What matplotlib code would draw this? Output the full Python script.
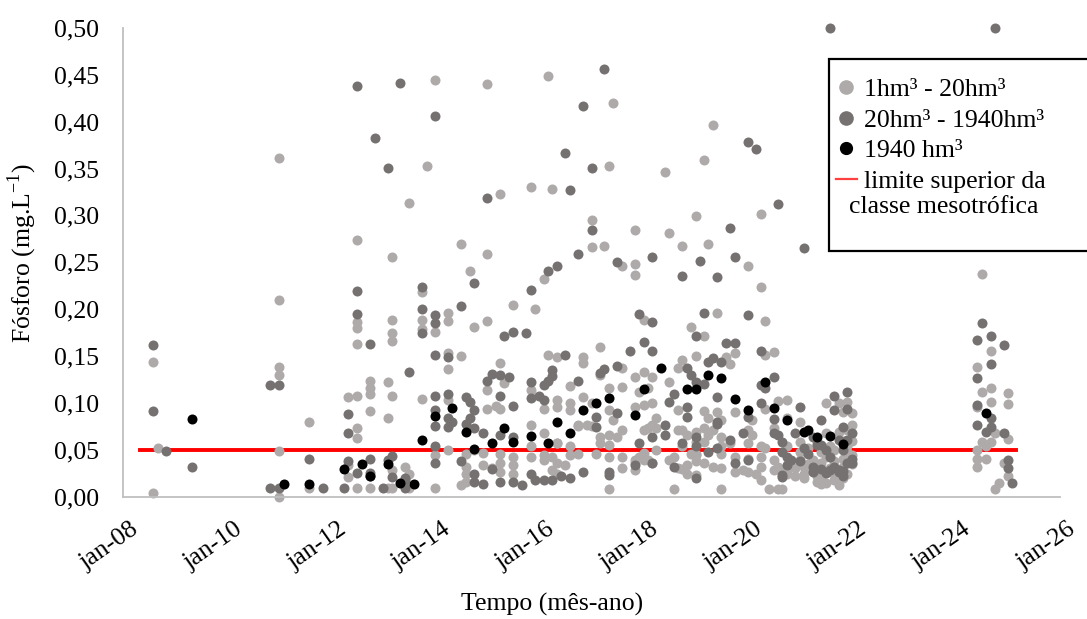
import numpy as np
import pandas as pd
import matplotlib
matplotlib.use('Agg')
import matplotlib.pyplot as plt
from matplotlib.ticker import FuncFormatter, MultipleLocator
from matplotlib.lines import Line2D
from matplotlib.patches import Rectangle
from matplotlib.transforms import ScaledTranslation

plt.rcParams['font.family'] = ['Liberation Serif', 'DejaVu Serif']
plt.rcParams['mathtext.fontset'] = 'custom'
plt.rcParams['mathtext.rm'] = 'Liberation Serif'

# fosforo total (mg/L) por mes de coleta, agrupado pelo volume do reservatorio
light_pts = {  # 1hm3 - 20hm3
    "2008-08": [0.144, 0.004], "2008-09": [0.052],
    "2011-01": [0.361, 0.210, 0.139, 0.130, 0.049, 0.0],
    "2011-08": [0.080, 0.010],
    "2012-05": [0.107, 0.034, 0.021],
    "2012-07": [0.274, 0.186, 0.180, 0.163, 0.108, 0.073, 0.063, 0.010],
    "2012-10": [0.124, 0.116, 0.110, 0.092, 0.010],
    "2013-02": [0.122, 0.084, 0.010],
    "2013-03": [0.256, 0.189, 0.175, 0.166, 0.108, 0.029, 0.010],
    "2013-06": [0.032], "2013-07": [0.313, 0.024, 0.010],
    "2013-10": [0.218, 0.189, 0.179, 0.104], "2013-11": [0.353],
    "2014-01": [0.444, 0.176, 0.045, 0.010],
    "2014-04": [0.196, 0.188, 0.153, 0.136, 0.103, 0.050],
    "2014-07": [0.270, 0.150, 0.013],
    "2014-08": [0.046, 0.032, 0.025, 0.016],
    "2014-09": [0.241], "2014-10": [0.181, 0.050], "2014-12": [0.047, 0.034],
    "2015-01": [0.440, 0.259, 0.188, 0.114, 0.094],
    "2015-02": [0.031], "2015-03": [0.097],
    "2015-04": [0.323, 0.143, 0.094, 0.046, 0.036, 0.027],
    "2015-05": [0.121], "2015-07": [0.205, 0.043, 0.034, 0.025],
    "2015-11": [0.330, 0.114, 0.077, 0.054, 0.043], "2015-12": [0.200],
    "2016-02": [0.232, 0.094, 0.068, 0.045, 0.039],
    "2016-03": [0.449, 0.151], "2016-04": [0.328, 0.043, 0.029],
    "2016-05": [0.149, 0.103, 0.096, 0.058, 0.057, 0.036, 0.025],
    "2016-07": [0.034], "2016-08": [0.118, 0.100, 0.093, 0.054, 0.045],
    "2016-10": [0.077, 0.076, 0.046], "2016-11": [0.149, 0.143, 0.107],
    "2016-12": [0.077], "2017-01": [0.295, 0.266, 0.100, 0.076],
    "2017-02": [0.046], "2017-03": [0.160, 0.130, 0.064, 0.057],
    "2017-04": [0.267],
    "2017-05": [0.353, 0.116, 0.093, 0.066, 0.055, 0.043, 0.009],
    "2017-06": [0.420, 0.082], "2017-07": [0.064],
    "2017-08": [0.246, 0.137, 0.117, 0.071, 0.043, 0.031],
    "2017-11": [0.284, 0.248, 0.237, 0.128, 0.096, 0.039, 0.036, 0.029],
    "2017-12": [0.112, 0.043],
    "2018-01": [0.189, 0.133, 0.098, 0.071, 0.047, 0.039],
    "2018-02": [0.116, 0.073, 0.039], "2018-03": [0.128, 0.100, 0.077, 0.036],
    "2018-04": [0.084, 0.073, 0.050], "2018-06": [0.346],
    "2018-07": [0.281, 0.123, 0.039],
    "2018-08": [0.043, 0.009], "2018-09": [0.137, 0.093, 0.071, 0.031],
    "2018-10": [0.267, 0.146, 0.071, 0.054, 0.030],
    "2018-11": [0.066, 0.034, 0.025],
    "2018-12": [0.181, 0.046],
    "2019-01": [0.299, 0.150, 0.069, 0.059, 0.046, 0.045, 0.038, 0.023],
    "2019-03": [0.359, 0.171, 0.092, 0.073, 0.059, 0.036],
    "2019-04": [0.270, 0.084, 0.066], "2019-05": [0.396, 0.071, 0.032],
    "2019-06": [0.196, 0.091],
    "2019-07": [0.082, 0.064, 0.054, 0.046, 0.031, 0.009],
    "2019-08": [0.149], "2019-09": [0.142, 0.057],
    "2019-10": [0.153, 0.091, 0.043, 0.027], "2019-12": [0.029],
    "2020-01": [0.246, 0.071, 0.057, 0.041, 0.027],
    "2020-02": [0.082, 0.066], "2020-03": [0.025],
    "2020-04": [0.301, 0.224, 0.054, 0.043, 0.032, 0.018],
    "2020-05": [0.187, 0.151, 0.094, 0.052], "2020-06": [0.009],
    "2020-07": [0.155, 0.073, 0.039, 0.029], "2020-08": [0.102, 0.032, 0.009],
    "2020-09": [0.009], "2020-10": [0.103, 0.084, 0.054, 0.029, 0.025],
    "2020-12": [0.031, 0.022], "2021-01": [0.080, 0.059, 0.048, 0.039],
    "2021-02": [0.032, 0.025, 0.020], "2021-03": [0.052, 0.035, 0.030],
    "2021-04": [0.039], "2021-05": [0.057, 0.031, 0.022, 0.016],
    "2021-06": [0.048, 0.036, 0.027, 0.020, 0.014],
    "2021-07": [0.100, 0.068, 0.043, 0.015], "2021-08": [0.054, 0.031],
    "2021-09": [0.050, 0.038, 0.024, 0.018],
    "2021-10": [0.100, 0.069, 0.013],
    "2021-11": [0.091, 0.060, 0.041, 0.032, 0.020],
    "2021-12": [0.101, 0.071, 0.054, 0.048, 0.025],
    "2022-01": [0.089, 0.077, 0.060, 0.045, 0.035],
    "2024-06": [0.139, 0.096, 0.050, 0.041, 0.032],
    "2024-07": [0.238, 0.112, 0.059], "2024-08": [0.054, 0.041],
    "2024-09": [0.156, 0.116, 0.101, 0.059], "2024-10": [0.068, 0.009],
    "2024-11": [0.015], "2024-12": [0.036],
    "2025-01": [0.111, 0.099, 0.062, 0.022],
}

dark_pts = {  # 20hm3 - 1940hm3
    "2008-08": [0.162, 0.092], "2008-11": [0.049], "2009-05": [0.032],
    "2010-11": [0.119, 0.010], "2011-01": [0.119, 0.010],
    "2011-08": [0.040], "2011-11": [0.010], "2012-04": [0.010],
    "2012-05": [0.088, 0.068, 0.038],
    "2012-07": [0.438, 0.219, 0.195, 0.026],
    "2012-10": [0.163, 0.041, 0.026, 0.022], "2012-11": [0.382],
    "2013-01": [0.010], "2013-02": [0.351, 0.039], "2013-03": [0.044, 0.021],
    "2013-05": [0.441], "2013-06": [0.020, 0.018, 0.010], "2013-07": [0.133],
    "2013-10": [0.224, 0.200, 0.175],
    "2014-01": [0.406, 0.194, 0.185, 0.151, 0.108, 0.093, 0.076, 0.054, 0.036],
    "2014-04": [0.149, 0.110, 0.084, 0.075], "2014-05": [0.080],
    "2014-07": [0.204, 0.038], "2014-08": [0.107, 0.078],
    "2014-09": [0.101, 0.084], "2014-10": [0.228, 0.093, 0.073, 0.025, 0.016],
    "2014-12": [0.068, 0.014], "2015-01": [0.319, 0.124],
    "2015-02": [0.131, 0.030], "2015-04": [0.130, 0.108, 0.066, 0.016],
    "2015-05": [0.172], "2015-06": [0.128],
    "2015-07": [0.176, 0.097, 0.064, 0.016], "2015-09": [0.013],
    "2015-10": [0.175], "2015-11": [0.221, 0.123, 0.105, 0.025],
    "2015-12": [0.018], "2016-01": [0.108], "2016-02": [0.119, 0.103, 0.018],
    "2016-03": [0.241, 0.124], "2016-04": [0.135, 0.129, 0.018],
    "2016-05": [0.246], "2016-06": [0.022], "2016-07": [0.367, 0.151],
    "2016-08": [0.327, 0.020], "2016-10": [0.259, 0.124],
    "2016-11": [0.417, 0.027], "2017-01": [0.350, 0.284],
    "2017-02": [0.085, 0.075], "2017-03": [0.132], "2017-04": [0.456, 0.136],
    "2017-05": [0.027, 0.023], "2017-07": [0.250, 0.140, 0.089],
    "2017-10": [0.156], "2017-11": [0.034], "2017-12": [0.195, 0.057],
    "2018-01": [0.165], "2018-03": [0.256, 0.186, 0.156, 0.064, 0.036],
    "2018-06": [0.077, 0.066], "2018-07": [0.101], "2018-08": [0.110, 0.032],
    "2018-10": [0.235, 0.057], "2018-11": [0.137, 0.096, 0.085],
    "2018-12": [0.130], "2019-01": [0.172, 0.122, 0.064, 0.054, 0.020],
    "2019-02": [0.251], "2019-03": [0.196, 0.120], "2019-04": [0.144, 0.048],
    "2019-05": [0.148], "2019-06": [0.234, 0.107, 0.080, 0.078, 0.052],
    "2019-07": [0.144], "2019-08": [0.164], "2019-09": [0.287, 0.061],
    "2019-10": [0.256, 0.164, 0.036], "2019-12": [0.068],
    "2020-01": [0.378, 0.194, 0.085, 0.039], "2020-03": [0.371],
    "2020-04": [0.156, 0.119, 0.100], "2020-05": [0.116],
    "2020-07": [0.128, 0.083, 0.068], "2020-08": [0.312, 0.066],
    "2020-09": [0.059, 0.048, 0.023, 0.021], "2020-10": [0.043, 0.034],
    "2020-11": [0.039],
    "2020-12": [0.068], "2021-01": [0.096, 0.038], "2021-02": [0.265, 0.052],
    "2021-03": [0.046], "2021-04": [0.064, 0.032, 0.027], "2021-05": [0.055],
    "2021-06": [0.082, 0.055, 0.030], "2021-07": [0.050, 0.026],
    "2021-08": [0.500, 0.043, 0.029], "2021-09": [0.108, 0.093, 0.032],
    "2021-10": [0.061, 0.029, 0.027], "2021-11": [0.075, 0.050, 0.028, 0.022],
    "2021-12": [0.112, 0.094, 0.061, 0.036], "2022-01": [0.068, 0.040, 0.036],
    "2024-06": [0.167, 0.127, 0.098, 0.077], "2024-07": [0.185],
    "2024-08": [0.069], "2024-09": [0.171, 0.142, 0.084, 0.075],
    "2024-10": [0.500], "2024-12": [0.162, 0.068], "2025-01": [0.039, 0.031],
    "2025-02": [0.015],
}

# 1940 hm3 (um reservatorio so)
black_dates = ["2009-05", "2011-02", "2011-08", "2012-04", "2012-08", "2012-10",
               "2013-02", "2013-05", "2013-08", "2013-10", "2014-01", "2014-05",
               "2014-08", "2014-10", "2015-02", "2015-05", "2015-07", "2015-11",
               "2016-03", "2016-05", "2016-08", "2016-11", "2017-02", "2017-05",
               "2017-11", "2018-01", "2018-05", "2018-11", "2019-01", "2019-04",
               "2019-07", "2019-10", "2020-01", "2020-05", "2020-07", "2020-10",
               "2021-02", "2021-03", "2021-05", "2021-08", "2021-11", "2024-08"]
black_vals = [0.083, 0.014, 0.014, 0.030, 0.035, 0.022,
              0.035, 0.015, 0.014, 0.061, 0.086, 0.095,
              0.069, 0.051, 0.058, 0.073, 0.059, 0.065,
              0.057, 0.080, 0.068, 0.093, 0.100, 0.106,
              0.087, 0.115, 0.137, 0.115, 0.115, 0.130,
              0.127, 0.104, 0.093, 0.122, 0.095, 0.082,
              0.069, 0.071, 0.064, 0.065, 0.056, 0.089]

# limite da classe mesotrofica
limit_dates = ["2008-05", "2025-03"]
limit_value = 0.05

tick_dates = ["2008-01", "2010-01", "2012-01", "2014-01", "2016-01",
              "2018-01", "2020-01", "2022-01", "2024-01", "2026-01"]
tick_labels = ["jan-08", "jan-10", "jan-12", "jan-14", "jan-16",
               "jan-18", "jan-20", "jan-22", "jan-24", "jan-26"]

labels = ["1hm³ - 20hm³", "20hm³ - 1940hm³", "1940 hm³", "limite superior da"]
c_light = '#AEAAAA'
c_dark = '#767171'


def flatten(d):
    x, y = [], []
    for k, vals in d.items():
        for v in vals:
            x.append(k)
            y.append(v)
    return pd.to_datetime(x, format='%Y-%m'), np.array(y)


xl, yl = flatten(light_pts)
xd, yd = flatten(dark_pts)
xb = pd.to_datetime(black_dates, format='%Y-%m')

W, H = 1087, 619
fs = 18.5
fig = plt.figure(figsize=(W/100, H/100), dpi=100)
ax = fig.add_axes([123/W, 1-497/H, (1060-123)/W, (497-27.7)/H])

ax.plot(pd.to_datetime(limit_dates, format='%Y-%m'), [limit_value]*2,
        color='#FF0000', lw=2.8, zorder=1)
ax.scatter(xl, yl, s=52, color=c_light, linewidths=0, zorder=2, clip_on=False)
ax.scatter(xd, yd, s=52, color=c_dark, linewidths=0, zorder=3, clip_on=False)
ax.scatter(xb, black_vals, s=52, color='black', linewidths=0, zorder=4,
           clip_on=False)

ax.set_xlim(pd.Timestamp('2008-01-01'), pd.Timestamp('2026-01-01'))
ax.set_ylim(0, 0.5)
ax.yaxis.set_major_locator(MultipleLocator(0.05))
ax.yaxis.set_major_formatter(FuncFormatter(lambda v, p: f"{v:.2f}".replace('.', ',')))
ax.set_xticks(pd.to_datetime(tick_dates, format='%Y-%m'))
ax.set_xticklabels(tick_labels, rotation=35, ha='right', va='center',
                   rotation_mode='anchor')
ax.tick_params(axis='y', length=0, pad=17, labelsize=fs)
ax.tick_params(axis='x', length=0, pad=16, labelsize=fs)
shift = ScaledTranslation(13/100, -8/100, fig.dpi_scale_trans)
for lab in ax.get_xticklabels():
    lab.set_transform(lab.get_transform() + shift)

for s in ['top', 'right']:
    ax.spines[s].set_visible(False)
for s in ['left', 'bottom']:
    ax.spines[s].set_color('#BFBFBF')
    ax.spines[s].set_linewidth(1.3)

fig.text(22/W, 1-253/H, 'Fósforo (mg.L$^{\\mathregular{-1}}$)', rotation=90,
         ha='center', va='center', fontsize=fs)
fig.text(552/W, 1-604/H, 'Tempo (mês-ano)', ha='center', va='center',
         fontsize=fs)

# caixa da legenda (sai da borda direita como no original)
box = Rectangle((829/W, 1-251/H), (1100-829)/W, (251-59)/H,
                transform=fig.transFigure, facecolor='white',
                edgecolor='black', lw=1.6, zorder=5)
fig.add_artist(box)

handles = [Line2D([], [], ls='', marker='o', color=c_light, markersize=9.5),
           Line2D([], [], ls='', marker='o', color=c_dark, markersize=9.5),
           Line2D([], [], ls='', marker='o', color='black', markersize=8.5),
           Line2D([], [], color='#FF4040', lw=1.6)]
leg = fig.legend(handles, labels, loc='upper left',
                 bbox_to_anchor=(836/W, 1-78/H), frameon=False, fontsize=fs,
                 handlelength=0.8, handletextpad=0.3, labelspacing=0.3,
                 borderpad=0, borderaxespad=0)
leg.set_zorder(6)
# segunda linha do ultimo item, quebrada como no Excel
fig.text(849/W, 1-207.5/H, 'classe mesotrófica', ha='left', va='center',
         fontsize=fs, zorder=6)

fig.savefig('out.png', dpi=100)
